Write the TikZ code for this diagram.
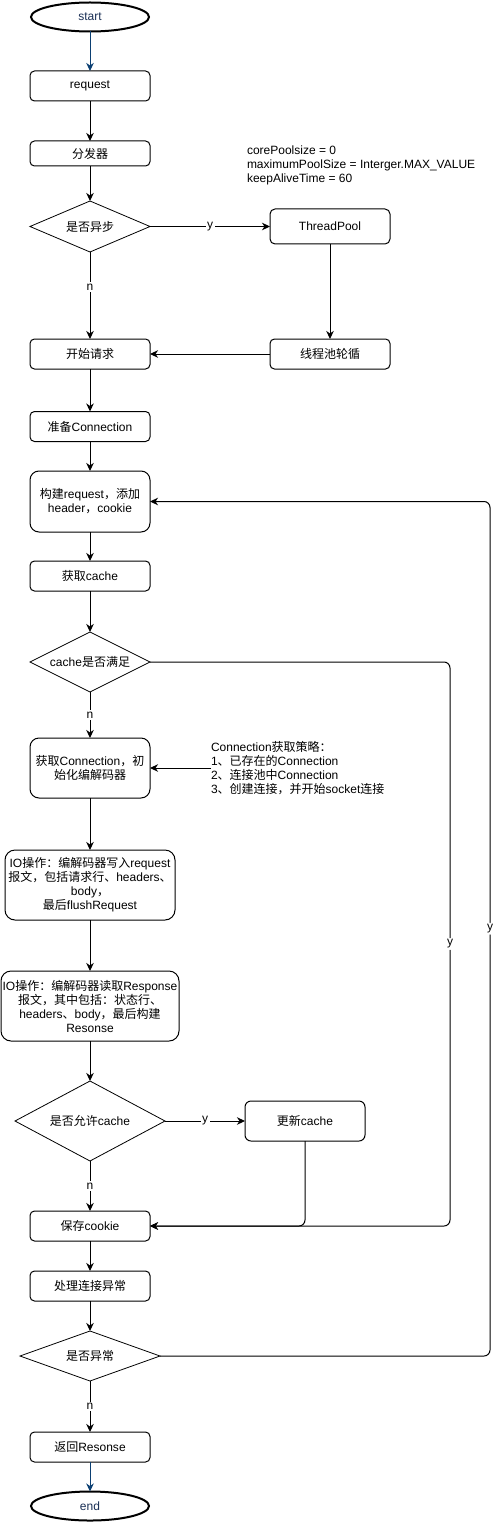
\documentclass[tikz,border=0pt]{standalone}
\usepackage{fontspec}
\setmainfont{Liberation Sans}
\newfontfamily\cjk{Noto Sans CJK SC}
\usetikzlibrary{shapes.geometric,arrows.meta}
\newcommand\zh[1]{{\cjk#1}}
\definecolor{navyline}{HTML}{0B3F72}
\definecolor{navytext}{HTML}{1A2F55}
\begin{document}
\begin{tikzpicture}[x=1pt,y=-1pt,
  font=\fontsize{12}{14}\selectfont,
  every node/.style={inner sep=0pt, outer sep=0pt},
  box/.style={draw, line width=1pt, rounded corners=4.5pt, minimum width=120pt, minimum height=30pt, align=center},
  dia/.style={draw, diamond, line width=0.8pt, align=center},
  term/.style={draw, ellipse, line width=2pt, minimum width=118pt, minimum height=29pt, text=navytext},
  arr/.style={draw, line width=1pt, -{Stealth[length=8pt,width=7.5pt,inset=2.5pt]}},
  bluearr/.style={arr, draw=navyline},
  lbl/.style={fill=white, inner sep=1.5pt, font=\fontsize{12}{14}\selectfont},
  note/.style={anchor=west, align=left}
]
\useasboundingbox (0,0) rectangle (499,1522);

\node[term] (start) at (90,17) {start};
\node[box] (req) at (90,86) {request};
\node[box, minimum height=25pt] (disp) at (90,153.5) {\zh{分发器}};
\node[dia, shape aspect=2.35, minimum width=120pt, minimum height=51pt] (d1) at (90,226.5) {\zh{是否异步}};
\node[box, minimum height=35pt, rounded corners=5pt] (tp) at (330,226.5) {ThreadPool};
\node[note] (cfg) at (247,165) {corePoolsize = 0\\maximumPoolSize = Interger.MAX\_VALUE\\keepAliveTime = 60};
\node[box] (begin) at (90,354) {\zh{开始请求}};
\node[box] (poll) at (330,354) {\zh{线程池轮循}};
\node[box] (prep) at (90,426.5) {\zh{准备}Connection};
\node[box, minimum height=61pt, rounded corners=9pt] (build) at (90,501.5) {\zh{构建}request\zh{，添加}\\header\zh{，}cookie};
\node[box] (getc) at (90,576) {\zh{获取}cache};
\node[dia, shape aspect=2, minimum width=120pt, minimum height=60pt] (d2) at (90,662) {cache\zh{是否满足}};
\node[box, minimum height=60pt, rounded corners=9pt] (conn) at (90,768) {\zh{获取}Connection\zh{，初}\\\zh{始化编解码器}};
\node[note] (strat) at (211,768) {Connection\zh{获取策略：}\\1\zh{、已存在的}Connection\\2\zh{、连接池中}Connection\\3\zh{、创建连接，并开始}socket\zh{连接}};
\node[box, minimum width=170pt, minimum height=70pt, rounded corners=10pt] (wr) at (90,885) {IO\zh{操作：编解码器写入}request\\\zh{报文，包括请求行、}headers\zh{、}\\body\zh{，}\\\zh{最后}flushRequest};
\node[box, minimum width=178pt, minimum height=70pt, rounded corners=10pt] (rd) at (90,1006) {IO\zh{操作：编解码器读取}Response\\\zh{报文，其中包括：状态行、}\\headers\zh{、}body\zh{，最后构建}\\Resonse};
\node[dia, shape aspect=1.875, minimum width=150pt, minimum height=80pt] (d3) at (90,1121) {\zh{是否允许}cache};
\node[box, minimum height=40pt, rounded corners=6pt] (upd) at (305,1121) {\zh{更新}cache};
\node[box] (save) at (90,1226) {\zh{保存}cookie};
\node[box] (exc) at (90,1286) {\zh{处理连接异常}};
\node[dia, shape aspect=2.8, minimum width=140pt, minimum height=50pt] (d4) at (90,1356) {\zh{是否异常}};
\node[box] (ret) at (90,1447) {\zh{返回}Resonse};
\node[term] (end) at (90,1506) {end};

\coordinate (c1) at (450,662);
\coordinate (c2) at (450,1226);
\coordinate (c3) at (305,1226);
\coordinate (c4) at (490,1356);
\coordinate (c5) at (490,501.5);

\draw[bluearr] (start) -- (req);
\draw[arr] (req) -- (disp);
\draw[arr] (disp) -- (d1);
\draw[arr] (d1) -- node[lbl] {y} (tp);
\draw[arr] (d1) -- node[lbl, pos=0.4] {n} (begin);
\draw[arr] (tp) -- (poll);
\draw[arr] (poll) -- (begin);
\draw[arr] (begin) -- (prep);
\draw[arr] (prep) -- (build);
\draw[arr] (build) -- (getc);
\draw[arr] (getc) -- (d2);
\draw[arr] (d2) -- node[lbl] {n} (conn);
\draw[arr, rounded corners=6pt] (d2.east) -- (c1) -- node[lbl] {y} (c2) -- (save.east);
\draw[arr] (strat.west) -- (conn.east);
\draw[arr] (conn) -- (wr);
\draw[arr] (wr) -- (rd);
\draw[arr] (rd) -- (d3);
\draw[arr] (d3) -- node[lbl] {y} (upd);
\draw[arr] (d3) -- node[lbl] {n} (save);
\draw[arr, rounded corners=6pt] (upd.south) -- (c3) -- (save.east);
\draw[arr] (save) -- (exc);
\draw[arr] (exc) -- (d4);
\draw[arr] (d4) -- node[lbl] {n} (ret);
\draw[arr, rounded corners=6pt] (d4.east) -- (c4) -- node[lbl] {y} (c5) -- (build.east);
\draw[bluearr] (ret) -- (end);
\end{tikzpicture}
\end{document}
